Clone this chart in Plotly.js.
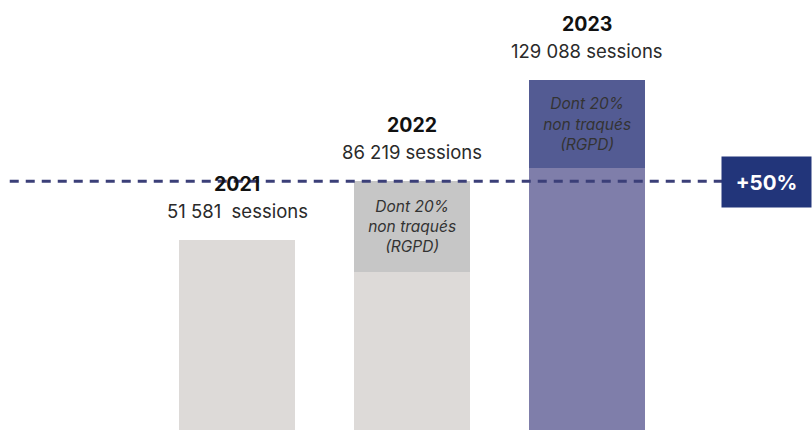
<!DOCTYPE html>
<html>
<head>
<meta charset="utf-8">
<script src="https://cdn.plot.ly/plotly-3.0.1.min.js"></script>
<style>html,body{margin:0;padding:0;background:#fff;}#chart{width:812px;height:430px;}</style>
</head>
<body>
<div id="chart"></div>
<script>
// Data
const years = ["2021", "2022", "2023"];
const sessionLabels = ["51 581  sessions", "86 219 sessions", "129 088 sessions"];
// Bar heights as drawn (relative index, 2023 = 100); the chart is illustrative, not to scale
const trackedHeight = [54.3, 45.1, 74.9];
const untrackedHeight = [0, 26.0, 25.1];
const untrackedText = ["", "Dont 20%<br>non traqués<br>(RGPD)", "Dont 20%<br>non traqués<br>(RGPD)"];
const growthLabel = "+50%";

const trackedColors = ["#dddad8", "#dddad8", "#7f7eaa"];
const untrackedColors = ["#dddad8", "#c6c6c6", "#535b93"];

const totals = trackedHeight.map((v, i) => v + untrackedHeight[i]);
const xs = [0, 1, 2];

const traces = [
  {type: "bar", x: xs, y: trackedHeight, width: 0.663,
   marker: {color: trackedColors, line: {width: 0}}, hoverinfo: "none"},
  {type: "bar", x: xs, y: untrackedHeight, width: 0.663,
   marker: {color: untrackedColors, line: {width: 0}}, hoverinfo: "none",
   text: untrackedText, textposition: "inside", insidetextanchor: "middle",
   textangle: 0,
   textfont: {family: "Inter, 'Open Sans', sans-serif", size: 15.5, style: "italic", color: "#333"}}
];

const annotations = [];
xs.forEach((x, i) => {
  annotations.push({x: x, y: totals[i], xref: "x", yref: "y", text: "<b>" + years[i] + "</b>",
    showarrow: false, yanchor: "middle", yshift: 56,
    font: {family: "Inter, 'Open Sans', sans-serif", size: 19.5, color: "#111"}});
  annotations.push({x: x, y: totals[i], xref: "x", yref: "y", text: sessionLabels[i],
    showarrow: false, yanchor: "middle", yshift: 29,
    font: {family: "Inter, 'Open Sans', sans-serif", size: 18.5, color: "#2a2a2a"}});
});
annotations.push({x: 1, xref: "paper", xanchor: "right", y: totals[1], yref: "y", yanchor: "middle",
  text: "<b>" + growthLabel + "</b>", showarrow: false, bgcolor: "#22357a",
  width: 81, height: 42, borderpad: 4, align: "center", yshift: -1,
  font: {family: "Inter, 'Open Sans', sans-serif", size: 20.5, color: "#ffffff"}});

const layout = {
  width: 812, height: 430,
  margin: {l: 0, r: 0, t: 0, b: 0},
  paper_bgcolor: "#ffffff", plot_bgcolor: "#ffffff",
  barmode: "stack", showlegend: false,
  xaxis: {range: [-1.355, 3.285], visible: false, fixedrange: true},
  yaxis: {range: [0, 122.9], visible: false, fixedrange: true},
  shapes: [{type: "line", xref: "paper", x0: 0.012, x1: 0.9, yref: "y", y0: totals[1], y1: totals[1],
    line: {color: "#3b3f78", width: 3, dash: "9px,7px"}, layer: "above"}],
  annotations: annotations
};

Plotly.newPlot("chart", traces, layout, {staticPlot: true, displayModeBar: false});
</script>
</body>
</html>
